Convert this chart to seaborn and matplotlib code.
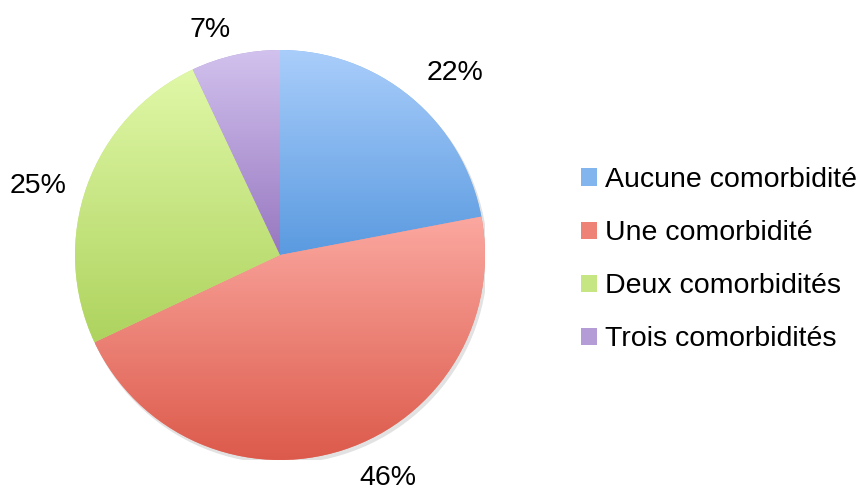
import seaborn as sns
import matplotlib.pyplot as plt
import numpy as np
from matplotlib.colors import LinearSegmentedColormap

# Data
categories = ["Aucune comorbidité", "Une comorbidité", "Deux comorbidités", "Trois comorbidités"]
shares = [22, 46, 25, 7]

# Gradient colours (top, bottom) for each slice
tops = ["#aacefb", "#fba8a0", "#e0f8a8", "#d2c2ee"]
bottoms = ["#5a9ae0", "#dc5a4b", "#aed35e", "#9777c0"]
mids = ["#82b4ee", "#ee8277", "#c6e683", "#b49dd7"]

# label placement (axes data units, pie radius = 1)
label_xy = [(0.854, 0.888), (0.527, -1.088), (-1.18, 0.337), (-0.341, 1.098)]

sns.set_style("white")
plt.rcParams['font.family'] = ['Liberation Sans', 'DejaVu Sans']

fig = plt.figure(figsize=(8.66, 4.9), dpi=100)
ax = fig.add_axes([75 / 866, 30 / 490, 410 / 866, 410 / 490])

# soft shadow under the pie
shadow = plt.Circle((0.01, -0.015), 1.0, color="#e2e2e2", zorder=0)
ax.add_patch(shadow)

wedges, texts, autotexts = ax.pie(
    shares, colors=mids, startangle=90, counterclock=False,
    autopct="%d%%", pctdistance=1.22,
    wedgeprops=dict(linewidth=0), textprops=dict(fontsize=20.5, color="black"),
)
for t, xy in zip(autotexts, label_xy):
    t.set_position(xy)

# gradient fill per wedge, clipped to the wedge shape
grad = np.linspace(0, 1, 256).reshape(-1, 1)
for w, top, bot in zip(wedges, tops, bottoms):
    w.set_zorder(1)
    bb = w.get_path().get_extents(w.get_patch_transform())
    cmap = LinearSegmentedColormap.from_list("g", [top, bot])
    im = ax.imshow(grad, cmap=cmap, aspect="auto",
                   extent=[bb.x0, bb.x1, bb.y0, bb.y1], origin="upper", zorder=2)
    im.set_clip_path(w)

ax.set_xlim(-1, 1)
ax.set_ylim(-1, 1)
ax.set_aspect("equal")
ax.axis("off")

fig.legend(wedges, categories, loc="center left", bbox_to_anchor=(581 / 866, 0.47),
           frameon=False, fontsize=20.5, labelcolor="black",
           handlelength=0.55, handleheight=0.55,
           handletextpad=0.3, labelspacing=0.95, borderpad=0, borderaxespad=0)

plt.savefig("out.png", dpi=100)
